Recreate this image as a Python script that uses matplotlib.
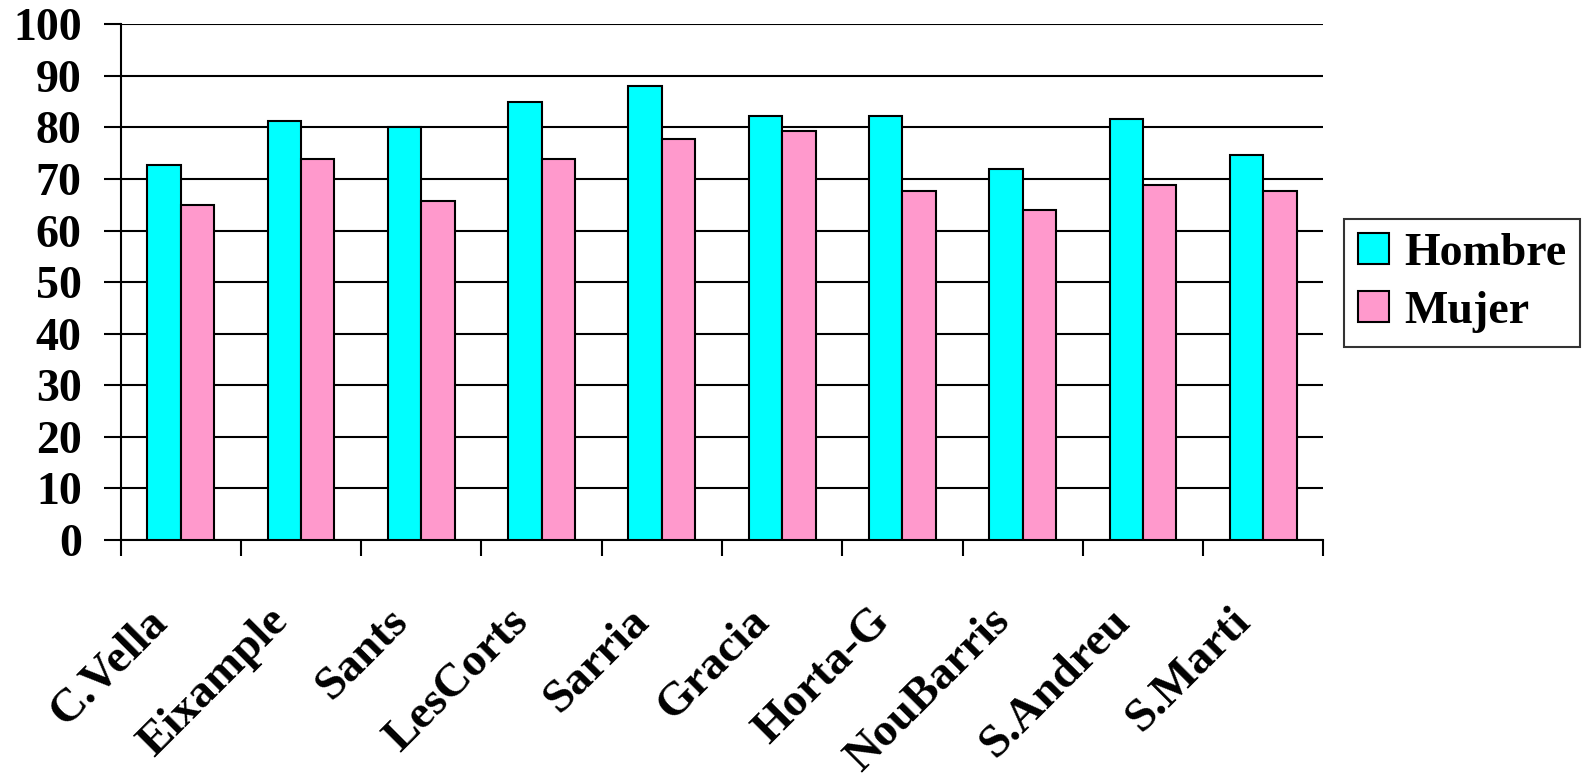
import numpy as np
import matplotlib.pyplot as plt

# datos
barrios = ['C.Vella', 'Eixample', 'Sants', 'LesCorts', 'Sarria',
           'Gracia', 'Horta-G', 'NouBarris', 'S.Andreu', 'S.Marti']
hombre = [72.7, 81.2, 80.0, 85.0, 88.1, 82.3, 82.3, 71.9, 81.6, 74.7]
mujer = [65.0, 73.9, 65.8, 73.9, 77.7, 79.3, 67.7, 63.9, 68.8, 67.7]

plt.rcParams['font.family'] = ['Liberation Serif', 'DejaVu Serif']
plt.rcParams['font.weight'] = 'bold'

fig = plt.figure(figsize=(15.89, 7.77), dpi=100)
ax = fig.add_axes([0.0759, 0.305, 0.757, 0.6637])

x = np.arange(len(barrios))
w = 0.278
ax.bar(x - w / 2, hombre, w, color='#00FFFF', edgecolor='black', linewidth=1.5, label='Hombre', zorder=3)
ax.bar(x + w / 2, mujer, w, color='#FF99CC', edgecolor='black', linewidth=1.5, label='Mujer', zorder=3)

ax.set_xlim(-0.5, len(barrios) - 0.5)
ax.set_ylim(0, 100)
ax.set_yticks(np.arange(0, 101, 10))
ax.yaxis.grid(True, color='black', linewidth=1.5, zorder=0)
ax.set_axisbelow(True)

# ticks del eje x entre categorías, etiquetas giradas 45 grados
ax.set_xticks(np.arange(-0.5, len(barrios), 1))
ax.set_xticklabels([])
ax.set_xticks(x - 0.16, minor=True)
ax.set_xticklabels(barrios, minor=True, rotation=45, ha='right', va='center',
                   rotation_mode='anchor', fontsize=34, fontweight='bold')
ax.tick_params(axis='x', which='minor', length=0, pad=54)
ax.tick_params(axis='x', which='major', length=11.5, width=1.5, direction='out')
ax.tick_params(axis='y', length=12, width=1.5, labelsize=33, pad=16)
for lbl in ax.get_yticklabels():
    lbl.set_fontweight('bold')

ax.spines['right'].set_visible(False)
ax.spines['top'].set_visible(False)
ax.spines['left'].set_linewidth(1.5)
ax.spines['bottom'].set_linewidth(1.5)

leg = fig.legend(loc='center left', bbox_to_anchor=(0.846, 0.636), fontsize=33,
                 frameon=True, fancybox=False, edgecolor='black',
                 handlelength=0.67, handleheight=0.67, handletextpad=0.33,
                 borderpad=0.3, labelspacing=0.35, borderaxespad=0)
leg.get_frame().set_linewidth(1.5)
for t in leg.get_texts():
    t.set_fontweight('bold')

fig.savefig('out.png', dpi=100)
